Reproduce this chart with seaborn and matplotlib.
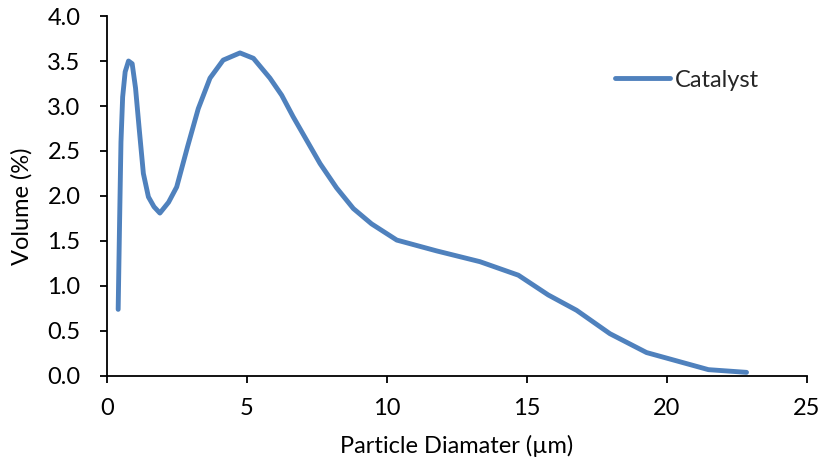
import matplotlib
matplotlib.use("Agg")
import matplotlib.pyplot as plt
import seaborn as sns
import pandas as pd

# particle size distribution
diameter_um = [0.40, 0.45, 0.50, 0.56, 0.65, 0.77, 0.90, 1.02, 1.15, 1.30, 1.48, 1.68,
               1.89, 2.20, 2.49, 2.88, 3.26, 3.68, 4.15, 4.75, 5.23, 5.82, 6.24, 6.65,
               7.13, 7.61, 8.20, 8.80, 9.45, 10.35, 11.77, 13.32, 14.69, 15.76, 16.77,
               17.96, 19.27, 21.48, 22.84]
volume_pct = [0.74, 1.70, 2.60, 3.10, 3.38, 3.50, 3.47, 3.20, 2.75, 2.25, 1.99, 1.88,
              1.81, 1.93, 2.10, 2.55, 2.97, 3.31, 3.51, 3.59, 3.53, 3.31, 3.12, 2.88,
              2.62, 2.36, 2.09, 1.86, 1.69, 1.51, 1.39, 1.27, 1.12, 0.90, 0.73,
              0.47, 0.26, 0.07, 0.04]

psd_df = pd.DataFrame({"diameter": diameter_um, "volume": volume_pct})

sns.set_style("white")
plt.rcParams["font.family"] = ["Lato", "DejaVu Sans"]

fig = plt.figure(figsize=(8.26, 4.63), dpi=100)
ax = fig.add_axes([0.1295, 0.188, 0.8475, 0.7774])

sns.lineplot(data=psd_df, x="diameter", y="volume", estimator=None, sort=False,
             color="#4F81BD", linewidth=3.5, label="Catalyst", ax=ax)
for ln in ax.lines:
    ln.set_solid_joinstyle("round")
    ln.set_solid_capstyle("round")

ax.set_xlim(0, 25)
ax.set_ylim(0, 4.0)
ax.set_xticks([0, 5, 10, 15, 20, 25])
ax.set_yticks([0.0, 0.5, 1.0, 1.5, 2.0, 2.5, 3.0, 3.5, 4.0])
ax.set_yticklabels(["%.1f" % v for v in ax.get_yticks()])

for side in ["top", "right"]:
    ax.spines[side].set_visible(False)
for side in ["left", "bottom"]:
    ax.spines[side].set_color("black")
    ax.spines[side].set_linewidth(1.3)

ax.tick_params(axis="both", direction="out", length=5, width=1.3, color="black",
               labelsize=17, labelcolor="black")
ax.tick_params(axis="x", bottom=True, pad=11)
ax.tick_params(axis="y", left=True, pad=14)

ax.set_xlabel("Particle Diamater (µm)", fontsize=17, color="black", labelpad=11)
ax.set_ylabel("Volume (%)", fontsize=17, color="black")
ax.yaxis.set_label_coords(-0.106, 0.472)

ax.legend(loc="center left", bbox_to_anchor=(0.7257, 0.822), frameon=False,
          fontsize=17, handlelength=2.35, handletextpad=0.2,
          borderaxespad=0, borderpad=0)

plt.savefig("out.png", dpi=100)
